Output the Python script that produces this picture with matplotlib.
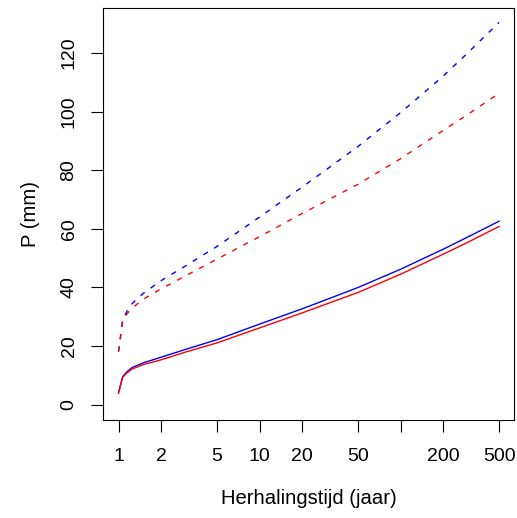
import matplotlib
matplotlib.use("Agg")
import matplotlib.pyplot as plt
from matplotlib.ticker import FixedLocator, FixedFormatter, NullLocator

# Return periods (years)
T = [1.0, 1.07, 1.15, 1.25, 1.5, 2, 3, 5, 10, 20, 30, 50, 100, 200, 300, 500]

# Precipitation (mm), solid = point estimate, dashed = upper bound
p_blue = [4.0, 9.6, 11.3, 12.7, 14.3, 16.2, 18.9, 22.2, 27.5, 32.7, 35.9,
          40.0, 46.2, 53.0, 57.2, 62.6]
p_red = [4.0, 9.4, 10.9, 12.2, 13.7, 15.3, 18.0, 21.1, 26.2, 31.3, 34.4,
         38.3, 44.5, 51.3, 55.4, 60.8]
p_blue_up = [18.1, 28.9, 32.0, 34.5, 38.0, 42.3, 47.4, 54.0, 64.0, 74.2, 80.3,
             88.1, 99.6, 112.0, 120.0, 130.4]
p_red_up = [18.1, 28.7, 31.0, 33.0, 36.0, 39.5, 44.0, 49.7, 57.3, 65.2, 69.6,
            75.2, 83.9, 93.5, 99.0, 106.2]

x_ticks = [1, 2, 5, 10, 20, 50, 100, 200, 500]
x_labels = ["1", "2", "5", "10", "20", "50", "", "200", "500"]
y_ticks = [0, 20, 40, 60, 80, 100, 120]

plt.rcParams["font.family"] = ["Liberation Sans", "DejaVu Sans"]

fig = plt.figure(figsize=(5.17, 5.18), dpi=100)
ax = fig.add_axes([0.1998, 0.1892, 0.795, 0.7948])

lw = 1.0
dash = (0, (3.8, 5.2))
ax.plot(T, p_blue_up, color="blue", lw=lw, linestyle=dash)
ax.plot(T, p_red_up, color="red", lw=lw, linestyle=dash)
ax.plot(T, p_blue, color="blue", lw=lw)
ax.plot(T, p_red, color="red", lw=lw)

ax.set_xscale("log")
ax.set_xlim(10 ** -0.108, 10 ** 2.807)
ax.set_ylim(-5.2, 135.2)

ax.xaxis.set_major_locator(FixedLocator(x_ticks))
ax.xaxis.set_major_formatter(FixedFormatter(x_labels))
ax.xaxis.set_minor_locator(NullLocator())
ax.set_yticks(y_ticks)
ax.set_yticklabels([str(v) for v in y_ticks], rotation=90, va="center")

ax.tick_params(axis="both", direction="out", length=8.5, width=0.8,
               labelsize=14, color="black")
ax.tick_params(axis="x", pad=12)
ax.tick_params(axis="y", pad=10)

for sp in ax.spines.values():
    sp.set_linewidth(0.8)

ax.set_xlabel("Herhalingstijd (jaar)", fontsize=14.6, labelpad=17)
ax.set_ylabel("P (mm)", fontsize=14.6, labelpad=15)

fig.savefig("out.png", dpi=100)
